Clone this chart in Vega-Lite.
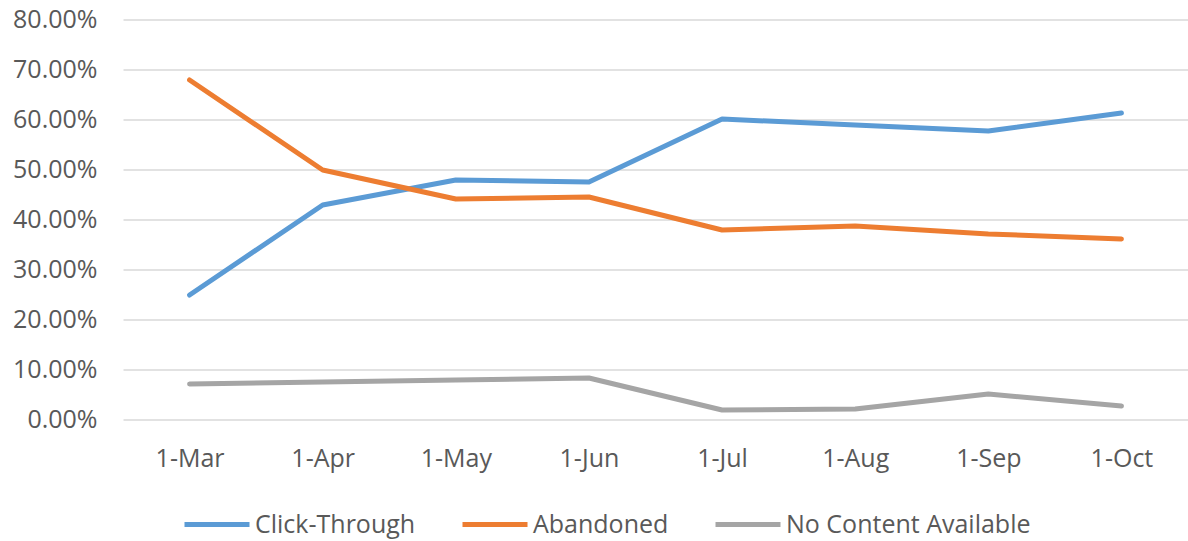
{
  "$schema": "https://vega.github.io/schema/vega-lite/v6.json",
  "autosize": {"type": "none"},
  "width": 1065,
  "height": 400,
  "padding": {"left": 123, "top": 19.5, "right": 0, "bottom": 121.5},
  "background": "white",
  "config": {
    "view": {"stroke": null},
    "font": "Open Sans",
    "axis": {"labelFont": "Open Sans", "labelColor": "#595959", "labelFontSize": 25},
    "legend": {"labelFont": "Open Sans", "labelColor": "#595959", "labelFontSize": 25, "labelLimit": 0}
  },
  "data": {
    "values": [
      {"month": "1-Mar", "series": "Click-Through", "value": 0.249},
      {"month": "1-Apr", "series": "Click-Through", "value": 0.429},
      {"month": "1-May", "series": "Click-Through", "value": 0.479},
      {"month": "1-Jun", "series": "Click-Through", "value": 0.475},
      {"month": "1-Jul", "series": "Click-Through", "value": 0.601},
      {"month": "1-Aug", "series": "Click-Through", "value": 0.589},
      {"month": "1-Sep", "series": "Click-Through", "value": 0.577},
      {"month": "1-Oct", "series": "Click-Through", "value": 0.613},
      {"month": "1-Mar", "series": "Abandoned", "value": 0.679},
      {"month": "1-Apr", "series": "Abandoned", "value": 0.499},
      {"month": "1-May", "series": "Abandoned", "value": 0.441},
      {"month": "1-Jun", "series": "Abandoned", "value": 0.445},
      {"month": "1-Jul", "series": "Abandoned", "value": 0.379},
      {"month": "1-Aug", "series": "Abandoned", "value": 0.387},
      {"month": "1-Sep", "series": "Abandoned", "value": 0.371},
      {"month": "1-Oct", "series": "Abandoned", "value": 0.361},
      {"month": "1-Mar", "series": "No Content Available", "value": 0.071},
      {"month": "1-Apr", "series": "No Content Available", "value": 0.075},
      {"month": "1-May", "series": "No Content Available", "value": 0.079},
      {"month": "1-Jun", "series": "No Content Available", "value": 0.083},
      {"month": "1-Jul", "series": "No Content Available", "value": 0.019},
      {"month": "1-Aug", "series": "No Content Available", "value": 0.021},
      {"month": "1-Sep", "series": "No Content Available", "value": 0.051},
      {"month": "1-Oct", "series": "No Content Available", "value": 0.027}
    ]
  },
  "mark": {"type": "line", "strokeWidth": 5, "strokeCap": "round", "strokeJoin": "round"},
  "encoding": {
    "x": {
      "field": "month", "type": "ordinal", "sort": null,
      "scale": {"type": "point", "padding": 0.5},
      "axis": {"title": null, "labelAngle": 0, "ticks": false, "domain": false, "grid": false, "labelPadding": 27}
    },
    "y": {
      "field": "value", "type": "quantitative",
      "scale": {"domain": [0, 0.8], "nice": false},
      "axis": {"title": null, "format": ".2%", "values": [0, 0.1, 0.2, 0.3, 0.4, 0.5, 0.6, 0.7, 0.8], "labelOverlap": false, "ticks": false, "domain": false, "gridColor": "#d9d9d9", "gridWidth": 1.5, "labelPadding": 26}
    },
    "color": {
      "field": "series", "type": "nominal",
      "sort": ["Click-Through", "Abandoned", "No Content Available"],
      "scale": {"domain": ["Click-Through", "Abandoned", "No Content Available"], "range": ["#5B9BD5", "#ED7D31", "#A5A5A5"]},
      "legend": {"title": null, "orient": "none", "direction": "horizontal", "legendX": 59, "legendY": 470, "symbolType": "stroke", "symbolSize": 4225, "symbolStrokeWidth": 5, "labelOffset": 3, "columnPadding": 36}
    }
  }
}
